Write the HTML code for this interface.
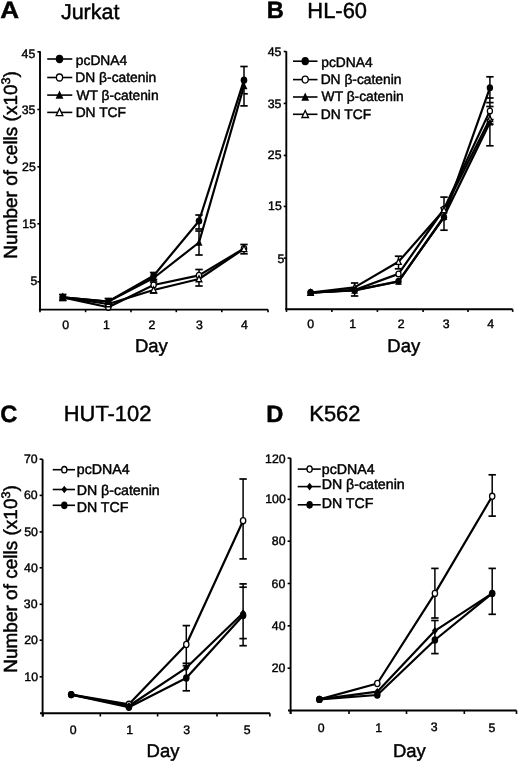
<!DOCTYPE html>
<html><head><meta charset="utf-8"><title>Figure</title>
<style>
html,body{margin:0;padding:0;background:#fff;}
body{width:520px;height:763px;overflow:hidden;font-family:"Liberation Sans", sans-serif;}
svg{display:block;filter:blur(0.3px);}
</style></head><body>
<svg width="520" height="763" viewBox="0 0 520 763" font-family='"Liberation Sans", sans-serif' text-rendering="geometricPrecision">
<rect width="520" height="763" fill="#fff"/>
<line x1="40.00" y1="51.30" x2="40.00" y2="310.20" stroke="#000" stroke-width="1.9" stroke-linecap="butt"/>
<line x1="37.40" y1="51.80" x2="40.00" y2="51.80" stroke="#000" stroke-width="1.615" stroke-linecap="butt"/>
<line x1="37.40" y1="109.50" x2="40.00" y2="109.50" stroke="#000" stroke-width="1.615" stroke-linecap="butt"/>
<line x1="37.40" y1="166.80" x2="40.00" y2="166.80" stroke="#000" stroke-width="1.615" stroke-linecap="butt"/>
<line x1="37.40" y1="223.80" x2="40.00" y2="223.80" stroke="#000" stroke-width="1.615" stroke-linecap="butt"/>
<line x1="37.40" y1="281.80" x2="40.00" y2="281.80" stroke="#000" stroke-width="1.615" stroke-linecap="butt"/>
<line x1="38.90" y1="309.60" x2="268.00" y2="309.60" stroke="#000" stroke-width="1.9" stroke-linecap="butt"/>
<line x1="40.00" y1="309.60" x2="40.00" y2="312.20" stroke="#000" stroke-width="1.615" stroke-linecap="butt"/>
<line x1="85.60" y1="309.60" x2="85.60" y2="312.20" stroke="#000" stroke-width="1.615" stroke-linecap="butt"/>
<line x1="131.00" y1="309.60" x2="131.00" y2="312.20" stroke="#000" stroke-width="1.615" stroke-linecap="butt"/>
<line x1="176.30" y1="309.60" x2="176.30" y2="312.20" stroke="#000" stroke-width="1.615" stroke-linecap="butt"/>
<line x1="221.80" y1="309.60" x2="221.80" y2="312.20" stroke="#000" stroke-width="1.615" stroke-linecap="butt"/>
<line x1="268.00" y1="309.60" x2="268.00" y2="312.20" stroke="#000" stroke-width="1.615" stroke-linecap="butt"/>
<line x1="47.20" y1="59.00" x2="72.30" y2="59.00" stroke="#000" stroke-width="1.6" stroke-linecap="butt"/>
<ellipse cx="59.50" cy="59.00" rx="3.75" ry="4.15" fill="#000"/>
<line x1="47.20" y1="77.50" x2="72.30" y2="77.50" stroke="#000" stroke-width="1.6" stroke-linecap="butt"/>
<ellipse cx="59.50" cy="77.50" rx="3.10" ry="3.50" fill="#fff" stroke="#000" stroke-width="1.3"/>
<line x1="47.20" y1="95.10" x2="72.30" y2="95.10" stroke="#000" stroke-width="1.6" stroke-linecap="butt"/>
<polygon points="59.50,90.56 55.56,98.81 63.44,98.81" fill="#000"/>
<line x1="47.20" y1="112.40" x2="72.30" y2="112.40" stroke="#000" stroke-width="1.6" stroke-linecap="butt"/>
<polygon points="59.50,108.57 56.16,115.63 62.84,115.63" fill="#fff" stroke="#000" stroke-width="1.3" stroke-linejoin="miter"/>
<polyline points="62.80,297.40 108.30,301.50 153.60,275.70 199.00,221.00 244.00,80.20" fill="none" stroke="#000" stroke-width="2.2" stroke-linejoin="round" stroke-linecap="round"/>
<polyline points="62.80,297.40 108.30,301.50 153.60,278.00 199.00,242.50 244.00,86.00" fill="none" stroke="#000" stroke-width="2.2" stroke-linejoin="round" stroke-linecap="round"/>
<polyline points="62.80,297.40 108.30,307.30 153.60,285.00 199.00,275.40 244.00,248.50" fill="none" stroke="#000" stroke-width="2.2" stroke-linejoin="round" stroke-linecap="round"/>
<polyline points="62.80,297.40 108.30,304.00 153.60,290.00 199.00,279.00 244.00,248.80" fill="none" stroke="#000" stroke-width="2.2" stroke-linejoin="round" stroke-linecap="round"/>
<line x1="244.00" y1="66.50" x2="244.00" y2="105.90" stroke="#000" stroke-width="1.5" stroke-linecap="butt"/>
<line x1="240.30" y1="66.50" x2="247.70" y2="66.50" stroke="#000" stroke-width="1.7" stroke-linecap="butt"/>
<line x1="240.30" y1="105.90" x2="247.70" y2="105.90" stroke="#000" stroke-width="1.7" stroke-linecap="butt"/>
<line x1="243.80" y1="93.80" x2="247.80" y2="93.80" stroke="#000" stroke-width="1.7" stroke-linecap="butt"/>
<line x1="199.00" y1="215.00" x2="199.00" y2="229.00" stroke="#000" stroke-width="1.5" stroke-linecap="butt"/>
<line x1="195.30" y1="215.00" x2="202.70" y2="215.00" stroke="#000" stroke-width="1.7" stroke-linecap="butt"/>
<line x1="195.30" y1="229.00" x2="202.70" y2="229.00" stroke="#000" stroke-width="1.7" stroke-linecap="butt"/>
<line x1="199.00" y1="231.00" x2="199.00" y2="255.00" stroke="#000" stroke-width="1.5" stroke-linecap="butt"/>
<line x1="195.30" y1="231.00" x2="202.70" y2="231.00" stroke="#000" stroke-width="1.7" stroke-linecap="butt"/>
<line x1="195.30" y1="255.00" x2="202.70" y2="255.00" stroke="#000" stroke-width="1.7" stroke-linecap="butt"/>
<line x1="199.00" y1="269.50" x2="199.00" y2="286.00" stroke="#000" stroke-width="1.5" stroke-linecap="butt"/>
<line x1="195.30" y1="269.50" x2="202.70" y2="269.50" stroke="#000" stroke-width="1.7" stroke-linecap="butt"/>
<line x1="195.30" y1="286.00" x2="202.70" y2="286.00" stroke="#000" stroke-width="1.7" stroke-linecap="butt"/>
<line x1="244.00" y1="244.50" x2="244.00" y2="253.80" stroke="#000" stroke-width="1.5" stroke-linecap="butt"/>
<line x1="240.30" y1="244.50" x2="247.70" y2="244.50" stroke="#000" stroke-width="1.7" stroke-linecap="butt"/>
<line x1="240.30" y1="253.80" x2="247.70" y2="253.80" stroke="#000" stroke-width="1.7" stroke-linecap="butt"/>
<line x1="153.60" y1="272.50" x2="153.60" y2="279.50" stroke="#000" stroke-width="1.5" stroke-linecap="butt"/>
<line x1="149.90" y1="272.50" x2="157.30" y2="272.50" stroke="#000" stroke-width="1.7" stroke-linecap="butt"/>
<line x1="149.90" y1="279.50" x2="157.30" y2="279.50" stroke="#000" stroke-width="1.7" stroke-linecap="butt"/>
<line x1="153.60" y1="282.00" x2="153.60" y2="293.00" stroke="#000" stroke-width="1.5" stroke-linecap="butt"/>
<line x1="149.90" y1="282.00" x2="157.30" y2="282.00" stroke="#000" stroke-width="1.7" stroke-linecap="butt"/>
<line x1="149.90" y1="293.00" x2="157.30" y2="293.00" stroke="#000" stroke-width="1.7" stroke-linecap="butt"/>
<line x1="108.30" y1="298.50" x2="108.30" y2="304.50" stroke="#000" stroke-width="1.5" stroke-linecap="butt"/>
<line x1="104.60" y1="298.50" x2="112.00" y2="298.50" stroke="#000" stroke-width="1.7" stroke-linecap="butt"/>
<line x1="104.60" y1="304.50" x2="112.00" y2="304.50" stroke="#000" stroke-width="1.7" stroke-linecap="butt"/>
<line x1="62.80" y1="294.50" x2="62.80" y2="300.50" stroke="#000" stroke-width="1.5" stroke-linecap="butt"/>
<line x1="59.10" y1="294.50" x2="66.50" y2="294.50" stroke="#000" stroke-width="1.7" stroke-linecap="butt"/>
<line x1="59.10" y1="300.50" x2="66.50" y2="300.50" stroke="#000" stroke-width="1.7" stroke-linecap="butt"/>
<ellipse cx="62.80" cy="297.40" rx="2.65" ry="2.95" fill="#fff" stroke="#000" stroke-width="1.3"/>
<ellipse cx="108.30" cy="307.30" rx="2.65" ry="2.95" fill="#fff" stroke="#000" stroke-width="1.3"/>
<ellipse cx="153.60" cy="285.00" rx="2.65" ry="2.95" fill="#fff" stroke="#000" stroke-width="1.3"/>
<ellipse cx="199.00" cy="275.40" rx="2.65" ry="2.95" fill="#fff" stroke="#000" stroke-width="1.3"/>
<ellipse cx="244.00" cy="248.50" rx="2.65" ry="2.95" fill="#fff" stroke="#000" stroke-width="1.3"/>
<polygon points="62.80,294.14 59.95,300.17 65.65,300.17" fill="#fff" stroke="#000" stroke-width="1.3" stroke-linejoin="miter"/>
<polygon points="108.30,300.74 105.45,306.77 111.15,306.77" fill="#fff" stroke="#000" stroke-width="1.3" stroke-linejoin="miter"/>
<polygon points="153.60,286.74 150.75,292.77 156.45,292.77" fill="#fff" stroke="#000" stroke-width="1.3" stroke-linejoin="miter"/>
<polygon points="199.00,275.74 196.15,281.77 201.85,281.77" fill="#fff" stroke="#000" stroke-width="1.3" stroke-linejoin="miter"/>
<polygon points="244.00,245.54 241.15,251.57 246.85,251.57" fill="#fff" stroke="#000" stroke-width="1.3" stroke-linejoin="miter"/>
<ellipse cx="62.80" cy="297.40" rx="3.3" ry="3.6" fill="#000"/>
<ellipse cx="108.30" cy="301.50" rx="3.3" ry="3.6" fill="#000"/>
<ellipse cx="153.60" cy="275.70" rx="3.3" ry="3.6" fill="#000"/>
<ellipse cx="199.00" cy="221.00" rx="3.3" ry="3.6" fill="#000"/>
<ellipse cx="244.00" cy="80.20" rx="3.3" ry="3.6" fill="#000"/>
<polygon points="62.80,293.41 59.33,300.67 66.27,300.67" fill="#000"/>
<polygon points="108.30,297.51 104.83,304.77 111.77,304.77" fill="#000"/>
<polygon points="153.60,274.01 150.13,281.27 157.06,281.27" fill="#000"/>
<polygon points="199.00,238.51 195.53,245.77 202.47,245.77" fill="#000"/>
<polygon points="244.00,82.01 240.53,89.27 247.47,89.27" fill="#000"/>
<line x1="286.30" y1="51.30" x2="286.30" y2="310.00" stroke="#000" stroke-width="1.9" stroke-linecap="butt"/>
<line x1="283.70" y1="51.50" x2="286.30" y2="51.50" stroke="#000" stroke-width="1.615" stroke-linecap="butt"/>
<line x1="283.70" y1="103.40" x2="286.30" y2="103.40" stroke="#000" stroke-width="1.615" stroke-linecap="butt"/>
<line x1="283.70" y1="155.40" x2="286.30" y2="155.40" stroke="#000" stroke-width="1.615" stroke-linecap="butt"/>
<line x1="283.70" y1="206.40" x2="286.30" y2="206.40" stroke="#000" stroke-width="1.615" stroke-linecap="butt"/>
<line x1="283.70" y1="258.10" x2="286.30" y2="258.10" stroke="#000" stroke-width="1.615" stroke-linecap="butt"/>
<line x1="285.30" y1="309.30" x2="512.70" y2="309.30" stroke="#000" stroke-width="1.9" stroke-linecap="butt"/>
<line x1="286.50" y1="309.30" x2="286.50" y2="311.90" stroke="#000" stroke-width="1.615" stroke-linecap="butt"/>
<line x1="331.90" y1="309.30" x2="331.90" y2="311.90" stroke="#000" stroke-width="1.615" stroke-linecap="butt"/>
<line x1="377.40" y1="309.30" x2="377.40" y2="311.90" stroke="#000" stroke-width="1.615" stroke-linecap="butt"/>
<line x1="423.10" y1="309.30" x2="423.10" y2="311.90" stroke="#000" stroke-width="1.615" stroke-linecap="butt"/>
<line x1="468.00" y1="309.30" x2="468.00" y2="311.90" stroke="#000" stroke-width="1.615" stroke-linecap="butt"/>
<line x1="512.70" y1="309.30" x2="512.70" y2="311.90" stroke="#000" stroke-width="1.615" stroke-linecap="butt"/>
<line x1="293.00" y1="61.20" x2="317.50" y2="61.20" stroke="#000" stroke-width="1.6" stroke-linecap="butt"/>
<ellipse cx="305.20" cy="61.20" rx="3.7" ry="4.1" fill="#000"/>
<line x1="293.00" y1="79.60" x2="317.50" y2="79.60" stroke="#000" stroke-width="1.6" stroke-linecap="butt"/>
<ellipse cx="305.20" cy="79.60" rx="3.05" ry="3.45" fill="#fff" stroke="#000" stroke-width="1.3"/>
<line x1="293.00" y1="97.00" x2="317.50" y2="97.00" stroke="#000" stroke-width="1.6" stroke-linecap="butt"/>
<polygon points="305.20,92.52 301.31,100.66 309.08,100.66" fill="#000"/>
<line x1="293.00" y1="114.30" x2="317.50" y2="114.30" stroke="#000" stroke-width="1.6" stroke-linecap="butt"/>
<polygon points="305.20,110.53 301.91,117.48 308.49,117.48" fill="#fff" stroke="#000" stroke-width="1.3" stroke-linejoin="miter"/>
<polyline points="310.60,292.60 354.60,290.10 398.50,281.30 444.00,217.30 489.90,87.80" fill="none" stroke="#000" stroke-width="2.2" stroke-linejoin="round" stroke-linecap="round"/>
<polyline points="310.60,292.60 354.60,290.00 398.50,273.90 444.00,209.00 489.90,110.90" fill="none" stroke="#000" stroke-width="2.2" stroke-linejoin="round" stroke-linecap="round"/>
<polyline points="310.60,292.60 354.60,290.50 398.50,281.50 444.00,216.50 489.90,122.40" fill="none" stroke="#000" stroke-width="2.2" stroke-linejoin="round" stroke-linecap="round"/>
<polyline points="310.60,292.60 354.60,287.40 398.50,261.80 444.00,210.00 489.90,119.00" fill="none" stroke="#000" stroke-width="2.2" stroke-linejoin="round" stroke-linecap="round"/>
<line x1="489.90" y1="76.80" x2="489.90" y2="145.80" stroke="#000" stroke-width="1.5" stroke-linecap="butt"/>
<line x1="486.20" y1="76.80" x2="493.60" y2="76.80" stroke="#000" stroke-width="1.7" stroke-linecap="butt"/>
<line x1="486.20" y1="145.80" x2="493.60" y2="145.80" stroke="#000" stroke-width="1.7" stroke-linecap="butt"/>
<line x1="486.20" y1="98.00" x2="493.60" y2="98.00" stroke="#000" stroke-width="1.7" stroke-linecap="butt"/>
<line x1="486.20" y1="102.60" x2="493.60" y2="102.60" stroke="#000" stroke-width="1.7" stroke-linecap="butt"/>
<line x1="486.20" y1="106.50" x2="493.60" y2="106.50" stroke="#000" stroke-width="1.7" stroke-linecap="butt"/>
<line x1="486.20" y1="119.60" x2="493.60" y2="119.60" stroke="#000" stroke-width="1.7" stroke-linecap="butt"/>
<line x1="486.20" y1="124.20" x2="493.60" y2="124.20" stroke="#000" stroke-width="1.7" stroke-linecap="butt"/>
<line x1="444.00" y1="197.10" x2="444.00" y2="230.20" stroke="#000" stroke-width="1.5" stroke-linecap="butt"/>
<line x1="440.30" y1="197.10" x2="447.70" y2="197.10" stroke="#000" stroke-width="1.7" stroke-linecap="butt"/>
<line x1="440.30" y1="230.20" x2="447.70" y2="230.20" stroke="#000" stroke-width="1.7" stroke-linecap="butt"/>
<line x1="440.30" y1="207.70" x2="447.70" y2="207.70" stroke="#000" stroke-width="1.7" stroke-linecap="butt"/>
<line x1="398.50" y1="256.20" x2="398.50" y2="268.80" stroke="#000" stroke-width="1.5" stroke-linecap="butt"/>
<line x1="394.80" y1="256.20" x2="402.20" y2="256.20" stroke="#000" stroke-width="1.7" stroke-linecap="butt"/>
<line x1="394.80" y1="268.80" x2="402.20" y2="268.80" stroke="#000" stroke-width="1.7" stroke-linecap="butt"/>
<line x1="354.60" y1="283.00" x2="354.60" y2="296.00" stroke="#000" stroke-width="1.5" stroke-linecap="butt"/>
<line x1="350.90" y1="283.00" x2="358.30" y2="283.00" stroke="#000" stroke-width="1.7" stroke-linecap="butt"/>
<line x1="350.90" y1="296.00" x2="358.30" y2="296.00" stroke="#000" stroke-width="1.7" stroke-linecap="butt"/>
<ellipse cx="310.60" cy="292.60" rx="2.55" ry="2.85" fill="#fff" stroke="#000" stroke-width="1.3"/>
<ellipse cx="354.60" cy="290.00" rx="2.55" ry="2.85" fill="#fff" stroke="#000" stroke-width="1.3"/>
<ellipse cx="398.50" cy="273.90" rx="2.55" ry="2.85" fill="#fff" stroke="#000" stroke-width="1.3"/>
<ellipse cx="444.00" cy="209.00" rx="2.55" ry="2.85" fill="#fff" stroke="#000" stroke-width="1.3"/>
<ellipse cx="489.90" cy="110.90" rx="2.55" ry="2.85" fill="#fff" stroke="#000" stroke-width="1.3"/>
<polygon points="310.60,289.46 307.86,295.26 313.34,295.26" fill="#fff" stroke="#000" stroke-width="1.3" stroke-linejoin="miter"/>
<polygon points="354.60,284.26 351.86,290.06 357.34,290.06" fill="#fff" stroke="#000" stroke-width="1.3" stroke-linejoin="miter"/>
<polygon points="398.50,258.66 395.76,264.46 401.24,264.46" fill="#fff" stroke="#000" stroke-width="1.3" stroke-linejoin="miter"/>
<polygon points="444.00,206.86 441.26,212.66 446.74,212.66" fill="#fff" stroke="#000" stroke-width="1.3" stroke-linejoin="miter"/>
<polygon points="489.90,115.86 487.16,121.66 492.64,121.66" fill="#fff" stroke="#000" stroke-width="1.3" stroke-linejoin="miter"/>
<ellipse cx="310.60" cy="292.60" rx="3.2" ry="3.5" fill="#000"/>
<ellipse cx="354.60" cy="290.10" rx="3.2" ry="3.5" fill="#000"/>
<ellipse cx="398.50" cy="281.30" rx="3.2" ry="3.5" fill="#000"/>
<ellipse cx="444.00" cy="217.30" rx="3.2" ry="3.5" fill="#000"/>
<ellipse cx="489.90" cy="87.80" rx="3.2" ry="3.5" fill="#000"/>
<polygon points="310.60,288.73 307.24,295.77 313.96,295.77" fill="#000"/>
<polygon points="354.60,286.63 351.24,293.67 357.96,293.67" fill="#000"/>
<polygon points="398.50,277.63 395.14,284.67 401.86,284.67" fill="#000"/>
<polygon points="444.00,212.63 440.64,219.67 447.36,219.67" fill="#000"/>
<polygon points="489.90,118.53 486.54,125.57 493.26,125.57" fill="#000"/>
<line x1="42.60" y1="459.20" x2="42.60" y2="716.50" stroke="#000" stroke-width="1.9" stroke-linecap="butt"/>
<line x1="39.60" y1="459.20" x2="42.60" y2="459.20" stroke="#000" stroke-width="1.615" stroke-linecap="butt"/>
<line x1="39.60" y1="495.40" x2="42.60" y2="495.40" stroke="#000" stroke-width="1.615" stroke-linecap="butt"/>
<line x1="39.60" y1="531.90" x2="42.60" y2="531.90" stroke="#000" stroke-width="1.615" stroke-linecap="butt"/>
<line x1="39.60" y1="567.80" x2="42.60" y2="567.80" stroke="#000" stroke-width="1.615" stroke-linecap="butt"/>
<line x1="39.60" y1="604.30" x2="42.60" y2="604.30" stroke="#000" stroke-width="1.615" stroke-linecap="butt"/>
<line x1="39.60" y1="640.20" x2="42.60" y2="640.20" stroke="#000" stroke-width="1.615" stroke-linecap="butt"/>
<line x1="39.60" y1="676.80" x2="42.60" y2="676.80" stroke="#000" stroke-width="1.615" stroke-linecap="butt"/>
<line x1="40.00" y1="713.30" x2="269.90" y2="713.30" stroke="#000" stroke-width="1.9" stroke-linecap="butt"/>
<line x1="43.00" y1="713.30" x2="43.00" y2="716.50" stroke="#000" stroke-width="1.615" stroke-linecap="butt"/>
<line x1="100.30" y1="713.30" x2="100.30" y2="716.50" stroke="#000" stroke-width="1.615" stroke-linecap="butt"/>
<line x1="157.60" y1="713.30" x2="157.60" y2="716.50" stroke="#000" stroke-width="1.615" stroke-linecap="butt"/>
<line x1="217.00" y1="713.30" x2="217.00" y2="716.50" stroke="#000" stroke-width="1.615" stroke-linecap="butt"/>
<line x1="269.90" y1="713.30" x2="269.90" y2="716.50" stroke="#000" stroke-width="1.615" stroke-linecap="butt"/>
<line x1="52.70" y1="469.70" x2="75.00" y2="469.70" stroke="#000" stroke-width="1.6" stroke-linecap="butt"/>
<ellipse cx="64.30" cy="469.70" rx="2.60" ry="3.20" fill="#fff" stroke="#000" stroke-width="1.3"/>
<line x1="52.70" y1="489.50" x2="75.00" y2="489.50" stroke="#000" stroke-width="1.6" stroke-linecap="butt"/>
<polygon points="64.30,485.65 61.38,489.50 64.30,493.35 67.22,489.50" fill="#000"/>
<line x1="52.70" y1="505.30" x2="75.00" y2="505.30" stroke="#000" stroke-width="1.6" stroke-linecap="butt"/>
<ellipse cx="64.30" cy="505.30" rx="3.25" ry="3.85" fill="#000"/>
<polyline points="71.20,694.60 128.90,704.30 186.30,644.50 243.10,520.70" fill="none" stroke="#000" stroke-width="2.2" stroke-linejoin="round" stroke-linecap="round"/>
<polyline points="71.20,694.60 128.90,706.00 186.30,667.80 243.10,613.00" fill="none" stroke="#000" stroke-width="2.2" stroke-linejoin="round" stroke-linecap="round"/>
<polyline points="71.20,694.60 128.90,707.30 186.30,678.00 243.10,615.50" fill="none" stroke="#000" stroke-width="2.2" stroke-linejoin="round" stroke-linecap="round"/>
<line x1="243.10" y1="479.00" x2="243.10" y2="558.90" stroke="#000" stroke-width="1.5" stroke-linecap="butt"/>
<line x1="239.40" y1="479.00" x2="246.80" y2="479.00" stroke="#000" stroke-width="1.7" stroke-linecap="butt"/>
<line x1="239.40" y1="558.90" x2="246.80" y2="558.90" stroke="#000" stroke-width="1.7" stroke-linecap="butt"/>
<line x1="243.10" y1="583.90" x2="243.10" y2="645.70" stroke="#000" stroke-width="1.5" stroke-linecap="butt"/>
<line x1="239.40" y1="583.90" x2="246.80" y2="583.90" stroke="#000" stroke-width="1.7" stroke-linecap="butt"/>
<line x1="239.40" y1="645.70" x2="246.80" y2="645.70" stroke="#000" stroke-width="1.7" stroke-linecap="butt"/>
<line x1="239.40" y1="587.20" x2="246.80" y2="587.20" stroke="#000" stroke-width="1.7" stroke-linecap="butt"/>
<line x1="239.40" y1="638.60" x2="246.80" y2="638.60" stroke="#000" stroke-width="1.7" stroke-linecap="butt"/>
<line x1="186.30" y1="625.60" x2="186.30" y2="690.80" stroke="#000" stroke-width="1.5" stroke-linecap="butt"/>
<line x1="182.60" y1="625.60" x2="190.00" y2="625.60" stroke="#000" stroke-width="1.7" stroke-linecap="butt"/>
<line x1="182.60" y1="690.80" x2="190.00" y2="690.80" stroke="#000" stroke-width="1.7" stroke-linecap="butt"/>
<line x1="182.60" y1="663.30" x2="190.00" y2="663.30" stroke="#000" stroke-width="1.7" stroke-linecap="butt"/>
<line x1="182.60" y1="665.70" x2="190.00" y2="665.70" stroke="#000" stroke-width="1.7" stroke-linecap="butt"/>
<ellipse cx="71.20" cy="694.60" rx="2.65" ry="3.05" fill="#fff" stroke="#000" stroke-width="1.3"/>
<ellipse cx="128.90" cy="704.30" rx="2.65" ry="3.05" fill="#fff" stroke="#000" stroke-width="1.3"/>
<ellipse cx="186.30" cy="644.50" rx="2.65" ry="3.05" fill="#fff" stroke="#000" stroke-width="1.3"/>
<ellipse cx="243.10" cy="520.70" rx="2.65" ry="3.05" fill="#fff" stroke="#000" stroke-width="1.3"/>
<polygon points="71.20,690.90 68.23,694.60 71.20,698.30 74.17,694.60" fill="#000"/>
<polygon points="128.90,702.30 125.93,706.00 128.90,709.70 131.87,706.00" fill="#000"/>
<polygon points="186.30,664.10 183.33,667.80 186.30,671.50 189.27,667.80" fill="#000"/>
<polygon points="243.10,609.30 240.13,613.00 243.10,616.70 246.07,613.00" fill="#000"/>
<ellipse cx="71.20" cy="694.60" rx="3.3" ry="3.7" fill="#000"/>
<ellipse cx="128.90" cy="707.30" rx="3.3" ry="3.7" fill="#000"/>
<ellipse cx="186.30" cy="678.00" rx="3.3" ry="3.7" fill="#000"/>
<ellipse cx="243.10" cy="615.50" rx="3.3" ry="3.7" fill="#000"/>
<line x1="290.60" y1="458.10" x2="290.60" y2="714.00" stroke="#000" stroke-width="1.9" stroke-linecap="butt"/>
<line x1="287.60" y1="458.10" x2="290.60" y2="458.10" stroke="#000" stroke-width="1.615" stroke-linecap="butt"/>
<line x1="287.60" y1="499.30" x2="290.60" y2="499.30" stroke="#000" stroke-width="1.615" stroke-linecap="butt"/>
<line x1="287.60" y1="541.20" x2="290.60" y2="541.20" stroke="#000" stroke-width="1.615" stroke-linecap="butt"/>
<line x1="287.60" y1="583.50" x2="290.60" y2="583.50" stroke="#000" stroke-width="1.615" stroke-linecap="butt"/>
<line x1="287.60" y1="625.80" x2="290.60" y2="625.80" stroke="#000" stroke-width="1.615" stroke-linecap="butt"/>
<line x1="287.60" y1="668.20" x2="290.60" y2="668.20" stroke="#000" stroke-width="1.615" stroke-linecap="butt"/>
<line x1="288.00" y1="710.45" x2="516.50" y2="710.45" stroke="#000" stroke-width="1.9" stroke-linecap="butt"/>
<line x1="290.60" y1="710.45" x2="290.60" y2="713.95" stroke="#000" stroke-width="1.615" stroke-linecap="butt"/>
<line x1="349.00" y1="710.45" x2="349.00" y2="713.95" stroke="#000" stroke-width="1.615" stroke-linecap="butt"/>
<line x1="406.50" y1="710.45" x2="406.50" y2="713.95" stroke="#000" stroke-width="1.615" stroke-linecap="butt"/>
<line x1="464.30" y1="710.45" x2="464.30" y2="713.95" stroke="#000" stroke-width="1.615" stroke-linecap="butt"/>
<line x1="516.50" y1="710.45" x2="516.50" y2="713.95" stroke="#000" stroke-width="1.615" stroke-linecap="butt"/>
<line x1="297.70" y1="469.10" x2="320.80" y2="469.10" stroke="#000" stroke-width="1.6" stroke-linecap="butt"/>
<ellipse cx="309.60" cy="469.10" rx="2.60" ry="3.20" fill="#fff" stroke="#000" stroke-width="1.3"/>
<line x1="297.70" y1="486.60" x2="320.80" y2="486.60" stroke="#000" stroke-width="1.6" stroke-linecap="butt"/>
<polygon points="309.60,482.75 306.68,486.60 309.60,490.45 312.53,486.60" fill="#000"/>
<line x1="297.70" y1="504.80" x2="320.80" y2="504.80" stroke="#000" stroke-width="1.6" stroke-linecap="butt"/>
<ellipse cx="309.60" cy="504.80" rx="3.25" ry="3.85" fill="#000"/>
<polyline points="319.40,699.40 377.30,683.50 434.90,593.40 492.20,496.30" fill="none" stroke="#000" stroke-width="2.2" stroke-linejoin="round" stroke-linecap="round"/>
<polyline points="319.40,699.40 377.30,691.70 434.90,630.80 492.20,593.40" fill="none" stroke="#000" stroke-width="2.2" stroke-linejoin="round" stroke-linecap="round"/>
<polyline points="319.40,699.40 377.30,695.00 434.90,640.00 492.20,593.40" fill="none" stroke="#000" stroke-width="2.2" stroke-linejoin="round" stroke-linecap="round"/>
<line x1="492.20" y1="474.80" x2="492.20" y2="516.10" stroke="#000" stroke-width="1.5" stroke-linecap="butt"/>
<line x1="488.50" y1="474.80" x2="495.90" y2="474.80" stroke="#000" stroke-width="1.7" stroke-linecap="butt"/>
<line x1="488.50" y1="516.10" x2="495.90" y2="516.10" stroke="#000" stroke-width="1.7" stroke-linecap="butt"/>
<line x1="492.20" y1="568.40" x2="492.20" y2="614.30" stroke="#000" stroke-width="1.5" stroke-linecap="butt"/>
<line x1="488.50" y1="568.40" x2="495.90" y2="568.40" stroke="#000" stroke-width="1.7" stroke-linecap="butt"/>
<line x1="488.50" y1="614.30" x2="495.90" y2="614.30" stroke="#000" stroke-width="1.7" stroke-linecap="butt"/>
<line x1="434.90" y1="568.40" x2="434.90" y2="618.00" stroke="#000" stroke-width="1.5" stroke-linecap="butt"/>
<line x1="431.20" y1="568.40" x2="438.60" y2="568.40" stroke="#000" stroke-width="1.7" stroke-linecap="butt"/>
<line x1="431.20" y1="618.00" x2="438.60" y2="618.00" stroke="#000" stroke-width="1.7" stroke-linecap="butt"/>
<line x1="434.90" y1="620.50" x2="434.90" y2="653.60" stroke="#000" stroke-width="1.5" stroke-linecap="butt"/>
<line x1="431.20" y1="620.50" x2="438.60" y2="620.50" stroke="#000" stroke-width="1.7" stroke-linecap="butt"/>
<line x1="431.20" y1="653.60" x2="438.60" y2="653.60" stroke="#000" stroke-width="1.7" stroke-linecap="butt"/>
<ellipse cx="319.40" cy="699.40" rx="2.65" ry="3.05" fill="#fff" stroke="#000" stroke-width="1.3"/>
<ellipse cx="377.30" cy="683.50" rx="2.65" ry="3.05" fill="#fff" stroke="#000" stroke-width="1.3"/>
<ellipse cx="434.90" cy="593.40" rx="2.65" ry="3.05" fill="#fff" stroke="#000" stroke-width="1.3"/>
<ellipse cx="492.20" cy="496.30" rx="2.65" ry="3.05" fill="#fff" stroke="#000" stroke-width="1.3"/>
<polygon points="319.40,695.70 316.43,699.40 319.40,703.10 322.37,699.40" fill="#000"/>
<polygon points="377.30,688.00 374.33,691.70 377.30,695.40 380.27,691.70" fill="#000"/>
<polygon points="434.90,627.10 431.93,630.80 434.90,634.50 437.87,630.80" fill="#000"/>
<polygon points="492.20,589.70 489.23,593.40 492.20,597.10 495.17,593.40" fill="#000"/>
<ellipse cx="319.40" cy="699.40" rx="3.3" ry="3.7" fill="#000"/>
<ellipse cx="377.30" cy="695.00" rx="3.3" ry="3.7" fill="#000"/>
<ellipse cx="434.90" cy="640.00" rx="3.3" ry="3.7" fill="#000"/>
<ellipse cx="492.20" cy="593.40" rx="3.3" ry="3.7" fill="#000"/>
<text x="0" y="0" font-size="23.7" font-weight="bold" stroke="#000" stroke-width="0.45" transform="translate(0.37,18) scale(1.1,1)">A</text>
<text x="0" y="0" font-size="21.5" stroke="#000" stroke-width="0.45" transform="translate(60.89,19)">Jurkat</text>
<text x="0" y="0" font-size="23.7" font-weight="bold" stroke="#000" stroke-width="0.45" transform="translate(266.82,18)">B</text>
<text x="0" y="0" font-size="21.9" stroke="#000" stroke-width="0.45" transform="translate(307.37,18)">HL-60</text>
<text x="0" y="0" font-size="23.7" font-weight="bold" stroke="#000" stroke-width="0.45" transform="translate(0.29,422)">C</text>
<text x="0" y="0" font-size="21.9" stroke="#000" stroke-width="0.45" transform="translate(63.79,421)">HUT-102</text>
<text x="0" y="0" font-size="23.7" font-weight="bold" stroke="#000" stroke-width="0.45" transform="translate(266.27,422)">D</text>
<text x="0" y="0" font-size="21.9" stroke="#000" stroke-width="0.45" transform="translate(309.30,421)">K562</text>
<text x="0" y="0" font-size="18.5" stroke="#000" stroke-width="0.45" transform="translate(134.92,352)">Day</text>
<text x="0" y="0" font-size="18.5" stroke="#000" stroke-width="0.45" transform="translate(387.27,352)">Day</text>
<text x="0" y="0" font-size="18.5" stroke="#000" stroke-width="0.45" transform="translate(146.62,757)">Day</text>
<text x="0" y="0" font-size="18.5" stroke="#000" stroke-width="0.45" transform="translate(392.97,757)">Day</text>
<text x="0" y="0" font-size="12.3" stroke="#000" stroke-width="0.4" transform="translate(21.59,58)">45</text>
<text x="0" y="0" font-size="12.3" stroke="#000" stroke-width="0.4" transform="translate(21.64,114)">35</text>
<text x="0" y="0" font-size="12.3" stroke="#000" stroke-width="0.4" transform="translate(22.05,171)">25</text>
<text x="0" y="0" font-size="12.3" stroke="#000" stroke-width="0.4" transform="translate(22.30,228)">15</text>
<text x="0" y="0" font-size="12.3" stroke="#000" stroke-width="0.4" transform="translate(30.56,285)">5</text>
<text x="0" y="0" font-size="12.3" stroke="#000" stroke-width="0.4" transform="translate(62.18,329)">0</text>
<text x="0" y="0" font-size="12.3" stroke="#000" stroke-width="0.4" transform="translate(103.09,329)">1</text>
<text x="0" y="0" font-size="12.3" stroke="#000" stroke-width="0.4" transform="translate(148.38,329)">2</text>
<text x="0" y="0" font-size="12.3" stroke="#000" stroke-width="0.4" transform="translate(196.07,329)">3</text>
<text x="0" y="0" font-size="12.3" stroke="#000" stroke-width="0.4" transform="translate(240.98,329)">4</text>
<text x="0" y="0" font-size="13.8" stroke="#000" stroke-width="0.45" transform="translate(75.82,65)">pcDNA4</text>
<text x="0" y="0" font-size="13.8" stroke="#000" stroke-width="0.45" transform="translate(75.36,82)">DN β-catenin</text>
<text x="0" y="0" font-size="13.8" stroke="#000" stroke-width="0.45" transform="translate(76.51,100)">WT β-catenin</text>
<text x="0" y="0" font-size="13.8" stroke="#000" stroke-width="0.45" transform="translate(75.66,117)">DN TCF</text>
<text x="0" y="0" font-size="12.3" stroke="#000" stroke-width="0.4" transform="translate(267.74,56)">45</text>
<text x="0" y="0" font-size="12.3" stroke="#000" stroke-width="0.4" transform="translate(267.74,108)">35</text>
<text x="0" y="0" font-size="12.3" stroke="#000" stroke-width="0.4" transform="translate(267.85,159)">25</text>
<text x="0" y="0" font-size="12.3" stroke="#000" stroke-width="0.4" transform="translate(268.10,210)">15</text>
<text x="0" y="0" font-size="12.3" stroke="#000" stroke-width="0.4" transform="translate(277.41,263)">5</text>
<text x="0" y="0" font-size="12.3" stroke="#000" stroke-width="0.4" transform="translate(307.18,328)">0</text>
<text x="0" y="0" font-size="12.3" stroke="#000" stroke-width="0.4" transform="translate(349.19,328)">1</text>
<text x="0" y="0" font-size="12.3" stroke="#000" stroke-width="0.4" transform="translate(397.68,328)">2</text>
<text x="0" y="0" font-size="12.3" stroke="#000" stroke-width="0.4" transform="translate(442.72,328)">3</text>
<text x="0" y="0" font-size="12.3" stroke="#000" stroke-width="0.4" transform="translate(487.23,328)">4</text>
<text x="0" y="0" font-size="13.8" stroke="#000" stroke-width="0.45" transform="translate(321.22,67)">pcDNA4</text>
<text x="0" y="0" font-size="13.8" stroke="#000" stroke-width="0.45" transform="translate(320.66,84)">DN β-catenin</text>
<text x="0" y="0" font-size="13.8" stroke="#000" stroke-width="0.45" transform="translate(321.61,101)">WT β-catenin</text>
<text x="0" y="0" font-size="13.8" stroke="#000" stroke-width="0.45" transform="translate(320.76,119)">DN TCF</text>
<text x="0" y="0" font-size="12.3" stroke="#000" stroke-width="0.4" transform="translate(23.97,463)">70</text>
<text x="0" y="0" font-size="12.3" stroke="#000" stroke-width="0.4" transform="translate(23.92,499)">60</text>
<text x="0" y="0" font-size="12.3" stroke="#000" stroke-width="0.4" transform="translate(24.18,536)">50</text>
<text x="0" y="0" font-size="12.3" stroke="#000" stroke-width="0.4" transform="translate(24.11,572)">40</text>
<text x="0" y="0" font-size="12.3" stroke="#000" stroke-width="0.4" transform="translate(23.86,608)">30</text>
<text x="0" y="0" font-size="12.3" stroke="#000" stroke-width="0.4" transform="translate(24.17,644)">20</text>
<text x="0" y="0" font-size="12.3" stroke="#000" stroke-width="0.4" transform="translate(24.37,681)">10</text>
<text x="0" y="0" font-size="12.3" stroke="#000" stroke-width="0.4" transform="translate(69.63,734)">0</text>
<text x="0" y="0" font-size="12.3" stroke="#000" stroke-width="0.4" transform="translate(126.29,734)">1</text>
<text x="0" y="0" font-size="12.3" stroke="#000" stroke-width="0.4" transform="translate(183.27,734)">3</text>
<text x="0" y="0" font-size="12.3" stroke="#000" stroke-width="0.4" transform="translate(243.71,734)">5</text>
<text x="0" y="0" font-size="14.2" stroke="#000" stroke-width="0.45" transform="translate(76.80,474)">pcDNA4</text>
<text x="0" y="0" font-size="14.2" stroke="#000" stroke-width="0.45" transform="translate(76.63,495)">DN β-catenin</text>
<text x="0" y="0" font-size="14.2" stroke="#000" stroke-width="0.45" transform="translate(76.63,512)">DN TCF</text>
<text x="0" y="0" font-size="12.3" stroke="#000" stroke-width="0.4" transform="translate(265.12,463)">120</text>
<text x="0" y="0" font-size="12.3" stroke="#000" stroke-width="0.4" transform="translate(265.22,503)">100</text>
<text x="0" y="0" font-size="12.3" stroke="#000" stroke-width="0.4" transform="translate(271.87,545)">80</text>
<text x="0" y="0" font-size="12.3" stroke="#000" stroke-width="0.4" transform="translate(271.62,588)">60</text>
<text x="0" y="0" font-size="12.3" stroke="#000" stroke-width="0.4" transform="translate(271.81,630)">40</text>
<text x="0" y="0" font-size="12.3" stroke="#000" stroke-width="0.4" transform="translate(271.77,672)">20</text>
<text x="0" y="0" font-size="12.3" stroke="#000" stroke-width="0.4" transform="translate(317.73,732)">0</text>
<text x="0" y="0" font-size="12.3" stroke="#000" stroke-width="0.4" transform="translate(375.29,732)">1</text>
<text x="0" y="0" font-size="12.3" stroke="#000" stroke-width="0.4" transform="translate(430.67,731)">3</text>
<text x="0" y="0" font-size="12.3" stroke="#000" stroke-width="0.4" transform="translate(488.61,732)">5</text>
<text x="0" y="0" font-size="14.2" stroke="#000" stroke-width="0.45" transform="translate(321.80,474)">pcDNA4</text>
<text x="0" y="0" font-size="14.2" stroke="#000" stroke-width="0.45" transform="translate(321.63,489)">DN β-catenin</text>
<text x="0" y="0" font-size="14.2" stroke="#000" stroke-width="0.45" transform="translate(321.63,508)">DN TCF</text>
<text transform="translate(17.0,164.9) rotate(-90)" font-size="19.0" text-anchor="middle" stroke="#000" stroke-width="0.45">Number of cells (x10<tspan dy="-6.8" font-size="12.5">3</tspan><tspan dy="6.8">)</tspan></text>
<text transform="translate(17.0,579.0) rotate(-90)" font-size="19.0" text-anchor="middle" stroke="#000" stroke-width="0.45">Number of cells (x10<tspan dy="-6.8" font-size="12.5">3</tspan><tspan dy="6.8">)</tspan></text>
</svg>
</body></html>
